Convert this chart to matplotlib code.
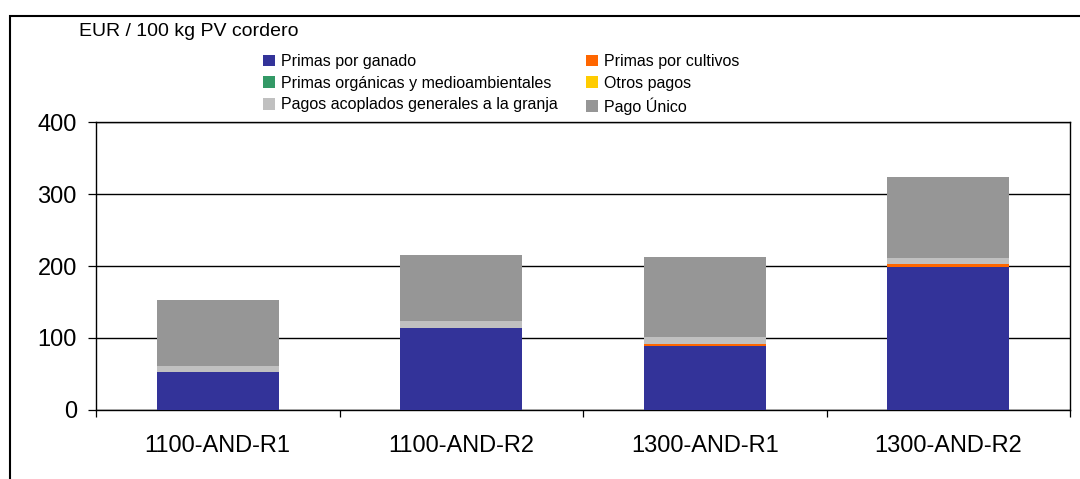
import matplotlib
matplotlib.use("Agg")
import matplotlib.pyplot as plt
from matplotlib.patches import Rectangle, Patch
import numpy as np

plt.rcParams['font.family'] = ['Liberation Sans', 'DejaVu Sans']

categories = ["1100-AND-R1", "1100-AND-R2", "1300-AND-R1", "1300-AND-R2"]
primas_ganado = [53, 114, 89, 199]
primas_cultivos = [0, 0, 3, 4]
primas_organicas = [0, 0, 0, 0]
otros_pagos = [0, 0, 0, 0]
pagos_acoplados = [8, 10, 9, 8]
pago_unico = [92, 91, 111, 113]

series = [
    ("Primas por ganado", primas_ganado, "#333399"),
    ("Primas por cultivos", primas_cultivos, "#FF6600"),
    ("Primas orgánicas y medioambientales", primas_organicas, "#339966"),
    ("Otros pagos", otros_pagos, "#FFCC00"),
    ("Pagos acoplados generales a la granja", pagos_acoplados, "#C0C0C0"),
    ("Pago Único", pago_unico, "#969696"),
]
y_ticks = [0, 100, 200, 300, 400]
y_label = "EUR / 100 kg PV cordero"

W, H = 1080, 479
fig = plt.figure(figsize=(W / 100, H / 100), dpi=100)
ax = fig.add_axes([96 / W, 1 - 410 / H, (1070 - 96) / W, (410 - 122) / H])

x = np.arange(len(categories))
bottom = np.zeros(len(categories))
handles = {}
for name, vals, col in series:
    v = np.array(vals, dtype=float)
    ax.bar(x, v, width=0.5, bottom=bottom, color=col, zorder=3, linewidth=0)
    bottom += v
    handles[name] = Patch(facecolor=col, edgecolor='none')

ax.set_xlim(-0.5, len(categories) - 0.5)
ax.set_ylim(0, 400)
ax.set_yticks(y_ticks)
ax.set_yticklabels([str(t) for t in y_ticks], fontsize=17)
ax.yaxis.grid(True, color='black', linewidth=1.0, zorder=1)
ax.tick_params(axis='y', direction='out', length=5.8, width=0.9, pad=8)
ax.set_xticks(x)
ax.set_xticklabels(categories, fontsize=17)
ax.tick_params(axis='x', which='major', length=0, pad=18)
ax.set_xticks(np.arange(-0.5, len(categories)), minor=True)
ax.tick_params(axis='x', which='minor', direction='out', length=5, width=0.9)
for s in ax.spines.values():
    s.set_color('black')
    s.set_linewidth(1.0)
ax.set_axisbelow(True)

# title text
fig.text(79 / W, 1 - 31 / H, y_label, fontsize=14, ha='left', va='center')

# legend (row order: ganado, cultivos / organicas, otros / acoplados, unico)
order = ["Primas por ganado", "Primas orgánicas y medioambientales",
         "Pagos acoplados generales a la granja",
         "Primas por cultivos", "Otros pagos", "Pago Único"]
leg = fig.legend([handles[n] for n in order], order, ncol=2, frameon=False,
                 fontsize=11.5, loc='upper left',
                 bbox_to_anchor=(255 / W, 1 - 46 / H),
                 handlelength=0.75, handleheight=0.75, handletextpad=0.35,
                 columnspacing=1.8, labelspacing=0.42, borderpad=0)

# outer chart border
fig.add_artist(Rectangle((10 / W, -0.1), 1.2, 1 - 16 / H + 0.1,
                         transform=fig.transFigure, fill=False,
                         edgecolor='black', linewidth=1.5))

fig.savefig("out.png", dpi=100)
